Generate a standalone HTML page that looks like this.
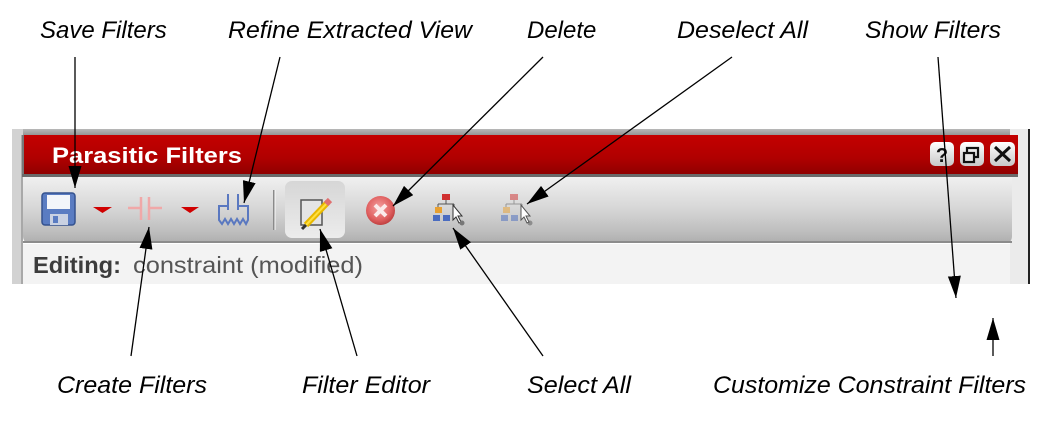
<!DOCTYPE html>
<html><head><meta charset="utf-8"><style>
html,body{margin:0;padding:0;background:#fff;}
svg{display:block;}
text{font-family:"Liberation Sans",sans-serif;}
</style></head><body>
<svg width="1044" height="446" viewBox="0 0 1044 446" xmlns="http://www.w3.org/2000/svg">
<defs>
<linearGradient id="red" x1="0" y1="0" x2="0" y2="1">
<stop offset="0" stop-color="#c40000"/><stop offset="0.55" stop-color="#b00000"/><stop offset="1" stop-color="#8a0000"/>
</linearGradient>
<linearGradient id="tb" x1="0" y1="0" x2="0" y2="1">
<stop offset="0" stop-color="#f0f0f0"/><stop offset="0.45" stop-color="#d8d8d8"/><stop offset="0.8" stop-color="#c0c0c0"/><stop offset="1" stop-color="#aeaeae"/>
</linearGradient>
<linearGradient id="topbar" x1="0" y1="0" x2="0" y2="1">
<stop offset="0" stop-color="#b8b8b8"/><stop offset="1" stop-color="#909090"/>
</linearGradient>
<linearGradient id="btn" x1="0" y1="0" x2="0" y2="1">
<stop offset="0" stop-color="#ffffff"/><stop offset="1" stop-color="#c8c8c8"/>
</linearGradient>
<linearGradient id="hl" x1="0" y1="0" x2="0" y2="1">
<stop offset="0" stop-color="#d6d6d6"/><stop offset="1" stop-color="#ececec"/>
</linearGradient>
<radialGradient id="del" cx="0.45" cy="0.4" r="0.6">
<stop offset="0" stop-color="#f4a0a0"/><stop offset="0.7" stop-color="#e06060"/><stop offset="1" stop-color="#c04040"/>
</radialGradient>
<marker id="ah" markerUnits="userSpaceOnUse" markerWidth="24" markerHeight="14" refX="22" refY="6.5" orient="auto">
<path d="M0,0 L22,6.5 L0,13 z" fill="#000"/>
</marker>
</defs>

<!-- panel frame -->
<rect x="12" y="129" width="998" height="7" fill="url(#topbar)"/>
<rect x="12" y="129" width="11" height="155" fill="#d2d2d2"/>
<rect x="21" y="135" width="2" height="149" fill="#a8a8a8"/>
<rect x="1010" y="129" width="19" height="155" fill="#ebebeb"/>
<rect x="1028" y="129" width="2" height="155" fill="#222"/>
<!-- title bar -->
<rect x="22" y="135" width="996" height="42" fill="url(#red)"/>
<rect x="22" y="135" width="2" height="42" fill="#777"/>
<rect x="22" y="174" width="996" height="3" fill="#6a6a6a"/>
<text x="52" y="163" font-size="22" font-weight="bold" fill="#fff" textLength="190" lengthAdjust="spacingAndGlyphs">Parasitic Filters</text>
<!-- window buttons -->
<rect x="930" y="142" width="24" height="24" rx="5" fill="url(#btn)"/>
<text x="942" y="162" font-size="20" font-weight="bold" fill="#111" text-anchor="middle">?</text>
<rect x="960" y="142" width="24" height="24" rx="5" fill="url(#btn)"/>
<rect x="967" y="148" width="11" height="9" fill="none" stroke="#111" stroke-width="2.2"/>
<rect x="964" y="153" width="10" height="9" fill="#e8e8e8" stroke="#111" stroke-width="2.2"/>
<rect x="990" y="142" width="25" height="24" rx="5" fill="url(#btn)"/>
<path d="M995,147 L1010,161 M1010,147 L995,161" stroke="#111" stroke-width="3"/>
<!-- toolbar -->
<path d="M23,177 L1012,177 L1012,236 Q1012,243 1005,243 L30,243 Q23,243 23,236 Z" fill="url(#tb)"/>
<rect x="23" y="241" width="989" height="2" fill="#8c8c8c"/>
<!-- content area -->
<rect x="23" y="244" width="987" height="40" fill="#f3f3f3"/>
<text x="33" y="273" font-size="23" font-weight="bold" fill="#3c3c3c" textLength="88" lengthAdjust="spacingAndGlyphs">Editing:</text>
<text x="133" y="273" font-size="23" fill="#555" textLength="230" lengthAdjust="spacingAndGlyphs">constraint (modified)</text>

<!-- floppy -->
<rect x="42" y="193" width="33" height="32" rx="3" fill="#5a7cc2" stroke="#34528f" stroke-width="1.5"/>
<rect x="47" y="195" width="23" height="14" fill="#f3f5fa"/>
<rect x="50" y="214" width="18" height="11" fill="#c9d1e2"/>
<rect x="53" y="216" width="5" height="7" fill="#5a7cc2"/>
<!-- red dropdowns -->
<polygon points="93,207 112,207 102.5,213" fill="#d00000"/>
<polygon points="181,207 199,207 190,213" fill="#d00000"/>
<!-- capacitor (faded) -->
<path d="M128,208 H141 M149,208 H162 M141,197 V220 M149,197 V220" stroke="#f0a8a8" stroke-width="2.5" fill="none"/>
<!-- refine icon -->
<path d="M228,206 H219 V220 L222,224 L225,219 L228,224 L231,219 L234,224 L237,219 L240,224 L243,219 L246,224 L248,220 V206 H238" fill="none" stroke="#5a78c0" stroke-width="2"/>
<path d="M228,194 V210 M238,194 V210" stroke="#5a78c0" stroke-width="2"/>
<!-- separator -->
<rect x="273" y="190" width="1.5" height="40" fill="#8a8a8a"/>
<rect x="274.5" y="190" width="1" height="40" fill="#fafafa"/>
<!-- filter editor highlighted -->
<rect x="285" y="181" width="60" height="57" rx="7" fill="url(#hl)"/>
<rect x="301" y="200" width="21" height="25" fill="#e4e4e4" stroke="#555" stroke-width="1.5"/>
<path d="M306,225 L328,202" stroke="#e8b800" stroke-width="6"/>
<path d="M306,225 L328,202" stroke="#ffe040" stroke-width="2"/>
<path d="M326,204 L330,200" stroke="#e07070" stroke-width="6"/>
<path d="M302,229 L306,225" stroke="#333" stroke-width="3"/>
<!-- delete -->
<circle cx="380.5" cy="210.5" r="14.5" fill="url(#del)"/>
<path d="M375,205 L386,216 M386,205 L375,216" stroke="#fbeaea" stroke-width="4"/>
<!-- select all -->
<g>
<rect x="442" y="194" width="8" height="6" fill="#d03030"/>
<path d="M446,200 V204 M438,204 H454 M438,204 V208 M454,204 V208" stroke="#555" stroke-width="1"/>
<rect x="435" y="207" width="7" height="6" fill="#e8a030"/>
<rect x="433" y="215" width="7" height="6" fill="#4a6cc0"/>
<rect x="443" y="215" width="7" height="6" fill="#4a6cc0"/>
<path d="M453,205 L453,220 L456,217 L459,223 L461,222 L458,216 L462,216 Z" fill="#fff" stroke="#333" stroke-width="1"/>
<circle cx="462" cy="223" r="2.5" fill="#777"/>
</g>
<!-- deselect all (faded) -->
<g opacity="0.5">
<rect x="510" y="194" width="8" height="6" fill="#d03030"/>
<path d="M514,200 V204 M506,204 H522 M506,204 V208 M522,204 V208" stroke="#555" stroke-width="1"/>
<rect x="503" y="207" width="7" height="6" fill="#e8a030"/>
<rect x="501" y="215" width="7" height="6" fill="#4a6cc0"/>
<rect x="511" y="215" width="7" height="6" fill="#4a6cc0"/>
<circle cx="530" cy="223" r="2.5" fill="#555"/>
</g>
<path d="M521,205 L521,220 L524,217 L527,223 L529,222 L526,216 L530,216 Z" fill="#fff" stroke="#555" stroke-width="1"/>

<!-- labels -->
<g font-style="italic" font-size="24" fill="#000">
<text x="40" y="38">Save Filters</text>
<text x="228" y="38" textLength="244" lengthAdjust="spacingAndGlyphs">Refine Extracted View</text>
<text x="527" y="38">Delete</text>
<text x="677" y="38" textLength="131" lengthAdjust="spacingAndGlyphs">Deselect All</text>
<text x="865" y="38" textLength="136" lengthAdjust="spacingAndGlyphs">Show Filters</text>
<text x="57" y="393" textLength="150" lengthAdjust="spacingAndGlyphs">Create Filters</text>
<text x="302" y="393" textLength="128" lengthAdjust="spacingAndGlyphs">Filter Editor</text>
<text x="527" y="393" textLength="104" lengthAdjust="spacingAndGlyphs">Select All</text>
<text x="713" y="393" textLength="313" lengthAdjust="spacingAndGlyphs">Customize Constraint Filters</text>
</g>

<!-- arrows -->
<g stroke="#000" stroke-width="1.3" fill="none" marker-end="url(#ah)">
<line x1="75" y1="57" x2="75" y2="188"/>
<line x1="280" y1="57" x2="244" y2="203"/>
<line x1="543" y1="57" x2="393" y2="206"/>
<line x1="732" y1="57" x2="527" y2="204"/>
<line x1="938" y1="57" x2="956" y2="298"/>
<line x1="993" y1="356" x2="993" y2="318"/>
<line x1="131" y1="356" x2="149" y2="227"/>
<line x1="357" y1="356" x2="320" y2="229"/>
<line x1="543" y1="356" x2="453" y2="228"/>
</g>
</svg>
</body></html>
